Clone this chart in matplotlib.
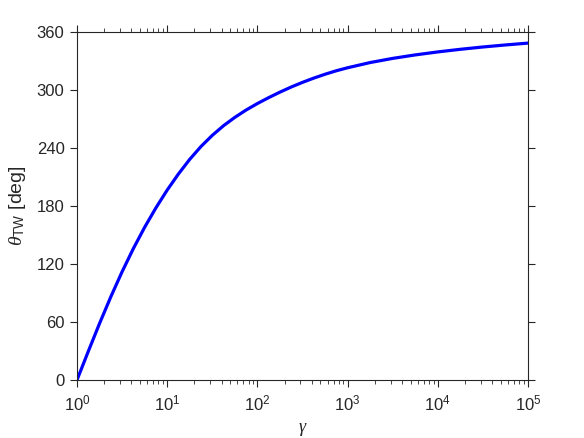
import matplotlib
matplotlib.use('Agg')
import matplotlib.pyplot as plt
import numpy as np

# values (log10 of gamma, angle in deg)
log_gamma = [0.0, 0.125, 0.25, 0.375, 0.5, 0.625, 0.75, 0.875, 1.0,
             1.125, 1.25, 1.375, 1.5, 1.625, 1.75, 1.875, 2.0, 2.125,
             2.25, 2.375, 2.5, 2.625, 2.75, 2.875, 3.0, 3.25, 3.5, 3.75,
             4.0, 4.25, 4.5, 4.75, 5.0]
theta_tw = [0, 29.6, 58.5, 86.1, 112, 136, 158, 178.1, 196.5,
            213.2, 228.3, 241.6, 253.1, 263.1, 271.7, 279.3, 286, 292.1,
            297.8, 303.1, 307.9, 312.3, 316.3, 319.9, 323, 328.4, 332.7, 336.3,
            339.4, 342.1, 344.5, 346.6, 348.5]

y_ticks = [0, 60, 120, 180, 240, 300, 360]

AX_COLOR = '#262626'

plt.rcParams['font.family'] = ['Liberation Sans', 'DejaVu Sans']
plt.rcParams['mathtext.fontset'] = 'custom'
plt.rcParams['mathtext.rm'] = 'Liberation Sans'
plt.rcParams['mathtext.it'] = 'Liberation Serif:italic'
plt.rcParams['mathtext.bf'] = 'Liberation Sans:bold'

gamma = 10 ** np.array(log_gamma)

fig = plt.figure(figsize=(5.84, 4.38), dpi=100)
ax = fig.add_axes([77 / 584, 58 / 438, 451 / 584, 348 / 438])

ax.plot(gamma, theta_tw, color=(0, 0, 1), lw=2.3,
        solid_capstyle='round', solid_joinstyle='round')

ax.set_xscale('log')
ax.set_xlim(1, 1e5)
ax.set_ylim(0, 360)
ax.set_yticks(y_ticks)

for s in ax.spines.values():
    s.set_color(AX_COLOR)
    s.set_linewidth(0.8)

ax.tick_params(which='both', direction='out', colors=AX_COLOR,
               top=True, right=True, labelsize=12)
ax.tick_params(which='major', length=5, width=0.8, pad=4)
ax.tick_params(axis='x', which='major', pad=5)
ax.tick_params(which='minor', length=3, width=0.6)
ax.tick_params(axis='y', which='minor', left=False, right=False)

ax.set_xlabel(r'$\gamma$', fontsize=13, color=AX_COLOR, labelpad=5)
ax.set_ylabel(r'$\theta_{\mathrm{TW}}$ [deg]', fontsize=14, color=AX_COLOR,
              labelpad=6)

fig.savefig('out.png', dpi=100)
